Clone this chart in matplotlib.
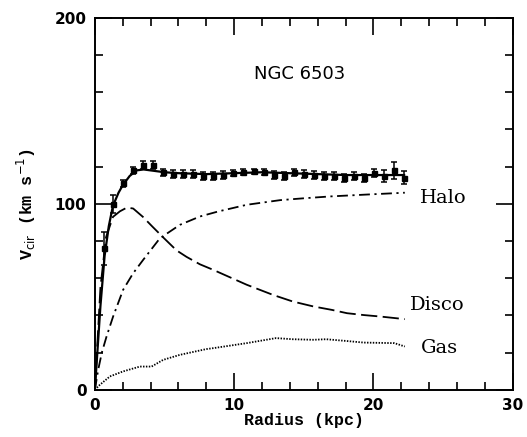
import numpy as np
import matplotlib
matplotlib.use('Agg')
import matplotlib.pyplot as plt
from matplotlib.ticker import MultipleLocator

# ========================
# Data
# ========================
rObs = [0.65, 1.31, 2.03, 2.75, 3.47, 4.19, 4.91, 5.63, 6.35, 7.07, 7.79, 8.51,
        9.23, 9.95, 10.67, 11.39, 12.11, 12.83, 13.55, 14.27, 14.99, 15.71, 16.43,
        17.15, 17.87, 18.59, 19.31, 20.03, 20.75, 21.47, 22.19]
vObs = [76, 100, 111, 118, 121, 121, 117, 116, 116, 116, 115, 115,
        115.5, 116.5, 117, 117.5, 117, 115.5, 115, 117, 116, 115.5, 115,
        115, 114, 115, 114, 116.5, 115, 118, 114]
eObs = [9, 5, 2, 2, 2, 2, 2, 2, 2, 2, 2, 2,
        2, 1.5, 1.5, 1.5, 1.5, 2, 2, 2, 2, 2, 2,
        2, 2, 2, 2, 2, 3, 4.5, 3.5]

rTot = [0, 0.4, 0.7, 1.0, 1.3, 1.7, 2.0, 2.5, 3.0, 3.5, 4.0, 5.0, 6.0, 8.0,
        10.0, 12.0, 14.0, 16.0, 18.0, 20.0, 22.2]
vTot = [0, 45, 72, 88, 99, 106, 110, 115, 118, 118.5, 118, 117, 116.5, 116,
        116.5, 117, 116.5, 116, 115.5, 115.5, 115.5]

rDisk = [0, 0.4, 0.8, 1.3, 1.8, 2.3, 2.75, 3.45, 4.1, 4.9, 5.86, 6.58, 7.54, 8.5,
         9.7, 10.9, 12.8, 14.2, 15.7, 17.0, 18.1, 19.3, 20.5, 22.25]
vDisk = [0, 55, 82, 93, 96, 98, 97.5, 93, 88, 82, 75, 71.5, 67.5, 64.5,
         60.5, 56.5, 51, 47.5, 44.8, 43, 41.2, 40.2, 39.4, 38]

rHalo = [0, 0.24, 0.5, 0.84, 1.31, 2.03, 2.75, 3.47, 4.67, 6.1, 7.54, 8.85,
         10.9, 13.3, 15.0, 16.9, 19.5, 22.25]
vHalo = [0, 10.8, 20, 28.7, 39.4, 53.8, 62.7, 69.9, 81.5, 88.7, 93.2, 95.9,
         99.5, 102, 103, 104, 105, 106]

rGas = [0, 0.36, 1.08, 2.03, 3.23, 4.07, 4.9, 6.1, 8.0, 8.5, 10.9, 13.0,
        14.2, 15.7, 16.6, 18.0, 19.3, 21.5, 22.25]
vGas = [0, 2.7, 7.2, 9.9, 12.5, 12.5, 16.1, 18.8, 21.9, 22.4, 25.1, 27.8,
        27.2, 26.9, 27.2, 26.3, 25.4, 25.1, 23.3]

# ========================
# Plot
# ========================
fig = plt.figure(figsize=(5.27, 4.37), dpi=100)
ax = fig.add_axes([0.180, 0.108, 0.793, 0.851])

ax.plot(rTot, vTot, '-', color='black', lw=1.6)
ax.plot(rDisk, vDisk, color='black', lw=1.3, dashes=(9, 3))
ax.plot(rHalo, vHalo, color='black', lw=1.3, dashes=(6, 2.5, 1.2, 2.5))
ax.plot(rGas, vGas, color='black', lw=1.3, dashes=(0.8, 0.8))
ax.errorbar(rObs, vObs, yerr=eObs, fmt='s', color='black', ms=3.6,
            capsize=2.5, elinewidth=1.1, capthick=1.1)

ax.text(14.7, 170, 'NGC 6503', ha='center', va='center', fontsize=13,
        family='DejaVu Sans')
ax.text(23.3, 103, 'Halo', ha='left', va='center', fontsize=14,
        family='DejaVu Serif')
ax.text(22.6, 45.5, 'Disco', ha='left', va='center', fontsize=14,
        family='DejaVu Serif')
ax.text(23.4, 22.5, 'Gas', ha='left', va='center', fontsize=14,
        family='DejaVu Serif')

ax.set_xlim(0, 30)
ax.set_ylim(0, 200)
ax.xaxis.set_major_locator(MultipleLocator(10))
ax.xaxis.set_minor_locator(MultipleLocator(2))
ax.yaxis.set_major_locator(MultipleLocator(100))
ax.yaxis.set_minor_locator(MultipleLocator(20))
ax.tick_params(which='both', direction='in', top=True, right=True, width=1.2)
ax.tick_params(which='major', length=12, labelsize=11, pad=6)
ax.tick_params(which='minor', length=6)
for lab in ax.get_xticklabels() + ax.get_yticklabels():
    lab.set_fontweight('bold')
    lab.set_family('DejaVu Sans')
for sp in ax.spines.values():
    sp.set_linewidth(1.4)

ax.set_xlabel('Radius (kpc)', fontsize=12, family='Liberation Mono',
              fontweight='bold', labelpad=0)
ax.set_ylabel(r'V$_{\rm cir}$ (km s$^{-1}$)', fontsize=12,
              family='Liberation Mono', fontweight='bold', labelpad=12)

fig.savefig('out.png', dpi=100)
